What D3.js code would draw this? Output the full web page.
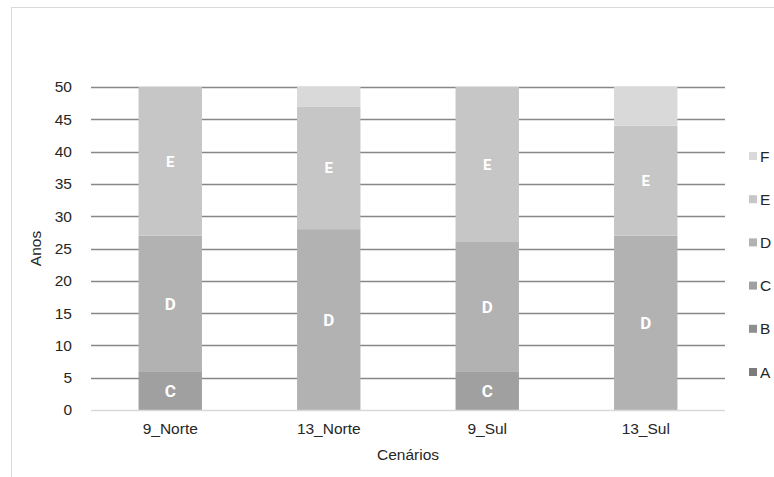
<!DOCTYPE html>
<html>
<head>
<meta charset="utf-8">
<script src="https://cdn.jsdelivr.net/npm/d3@7"></script>
<style>
  body { margin: 0; background: #fff; }
  text { font-family: "Liberation Sans", Arial, sans-serif; }
</style>
</head>
<body>
<div id="chart"></div>
<script>
// data
var cenarios = ['9_Norte', '13_Norte', '9_Sul', '13_Sul'];
var classes = ['A', 'B', 'C', 'D', 'E', 'F'];
var valA = [0, 0, 0, 0];
var valB = [0, 0, 0, 0];
var valC = [6, 0, 6, 0];
var valD = [21, 28, 20, 27];
var valE = [23, 19, 24, 17];
var valF = [0, 3, 0, 6];
var yTicks = [0, 5, 10, 15, 20, 25, 30, 35, 40, 45, 50];

var colors = {A: '#7b7b7b', B: '#8e8e8e', C: '#a0a0a0', D: '#b2b2b2', E: '#c6c6c6', F: '#d9d9d9'};

var width = 774, height = 477;
var margin = {top: 87, left: 91, right: 774 - 725, bottom: 477 - 410};
var fontSize = '15.5px';

var svg = d3.select('#chart').append('svg')
    .attr('width', width)
    .attr('height', height);

// outer frame
svg.append('rect')
    .attr('x', 11.5).attr('y', 7.5)
    .attr('width', 800).attr('height', 500)
    .attr('fill', 'none')
    .attr('stroke', '#d9d9d9');

var table = cenarios.map(function(c, i) {
    return {cenario: c, A: valA[i], B: valB[i], C: valC[i], D: valD[i], E: valE[i], F: valF[i]};
});
var series = d3.stack().keys(classes)(table);

var x = d3.scaleBand()
    .domain(cenarios)
    .range([margin.left, width - margin.right])
    .paddingInner(0.6)
    .paddingOuter(0.3);

var y = d3.scaleLinear()
    .domain([0, 50])
    .range([height - margin.bottom, margin.top]);

// gridlines
svg.append('g')
    .selectAll('line')
    .data(yTicks.filter(function(d) { return d > 0; }))
    .enter().append('line')
    .attr('x1', margin.left).attr('x2', width - margin.right)
    .attr('y1', function(d) { return Math.round(y(d)) + 0.5; })
    .attr('y2', function(d) { return Math.round(y(d)) + 0.5; })
    .attr('stroke', '#878787')
    .attr('stroke-width', 1.3);

// bars
var layer = svg.append('g')
    .selectAll('g')
    .data(series)
    .enter().append('g')
    .attr('fill', function(d) { return colors[d.key]; });

layer.selectAll('rect')
    .data(function(d) { return d.filter(function(p) { return p[1] > p[0]; }); })
    .enter().append('rect')
    .attr('x', function(d) { return x(d.data.cenario); })
    .attr('y', function(d) { return y(d[1]); })
    .attr('width', x.bandwidth())
    .attr('height', function(d) { return y(d[0]) - y(d[1]); });

// segment labels (C, D, E only)
series.forEach(function(s) {
    if (['C', 'D', 'E'].indexOf(s.key) < 0) return;
    svg.append('g')
        .selectAll('text')
        .data(s.filter(function(p) { return p[1] > p[0]; }))
        .enter().append('text')
        .attr('x', function(d) { return x(d.data.cenario) + x.bandwidth() / 2; })
        .attr('y', function(d) { return y((d[0] + d[1]) / 2); })
        .attr('dy', '0.36em')
        .attr('text-anchor', 'middle')
        .attr('fill', '#fff')
        .style('font-family', 'Roboto, "DejaVu Sans", sans-serif')
        .style('font-weight', 'bold')
        .style('font-size', s.key == 'E' ? '15px' : '17px')
        .text(s.key);
});

// baseline
svg.append('line')
    .attr('x1', margin.left).attr('x2', width - margin.right)
    .attr('y1', Math.round(y(0)) + 0.5).attr('y2', Math.round(y(0)) + 0.5)
    .attr('stroke', '#d9d9d9')
    .attr('stroke-width', 1.3);

// y axis
var yAxis = svg.append('g')
    .attr('transform', 'translate(' + (margin.left) + ',0)')
    .call(d3.axisLeft(y).tickValues(yTicks).tickSize(0).tickPadding(19));
yAxis.select('.domain').remove();
yAxis.selectAll('text')
    .style('font-family', '"Liberation Sans", Arial, sans-serif')
    .style('font-size', fontSize)
    .attr('fill', '#262626');

// x axis
var xAxis = svg.append('g')
    .attr('transform', 'translate(0,' + y(0) + ')')
    .call(d3.axisBottom(x).tickSize(0).tickPadding(13));
xAxis.select('.domain').remove();
xAxis.selectAll('text')
    .style('font-family', '"Liberation Sans", Arial, sans-serif')
    .style('font-size', fontSize)
    .attr('fill', '#262626');

// axis titles
svg.append('text')
    .attr('transform', 'translate(41,' + y(25) + ') rotate(-90)')
    .attr('text-anchor', 'middle')
    .style('font-size', fontSize)
    .attr('fill', '#262626')
    .text('Anos');

svg.append('text')
    .attr('x', (margin.left + width - margin.right) / 2)
    .attr('y', 460)
    .attr('text-anchor', 'middle')
    .style('font-size', fontSize)
    .attr('fill', '#262626')
    .text('Cenários');

// legend, F on top
var legendY = d3.scalePoint()
    .domain(classes.slice().reverse())
    .range([156, 372]);

var legend = svg.append('g')
    .selectAll('g')
    .data(classes)
    .enter().append('g')
    .attr('transform', function(d) { return 'translate(749,' + legendY(d) + ')'; });

legend.append('rect')
    .attr('x', 0).attr('y', -4)
    .attr('width', 8).attr('height', 8)
    .attr('fill', function(d) { return colors[d]; });

legend.append('text')
    .attr('x', 11)
    .attr('dy', '0.36em')
    .style('font-size', fontSize)
    .attr('fill', '#262626')
    .text(function(d) { return d; });
</script>
</body>
</html>
